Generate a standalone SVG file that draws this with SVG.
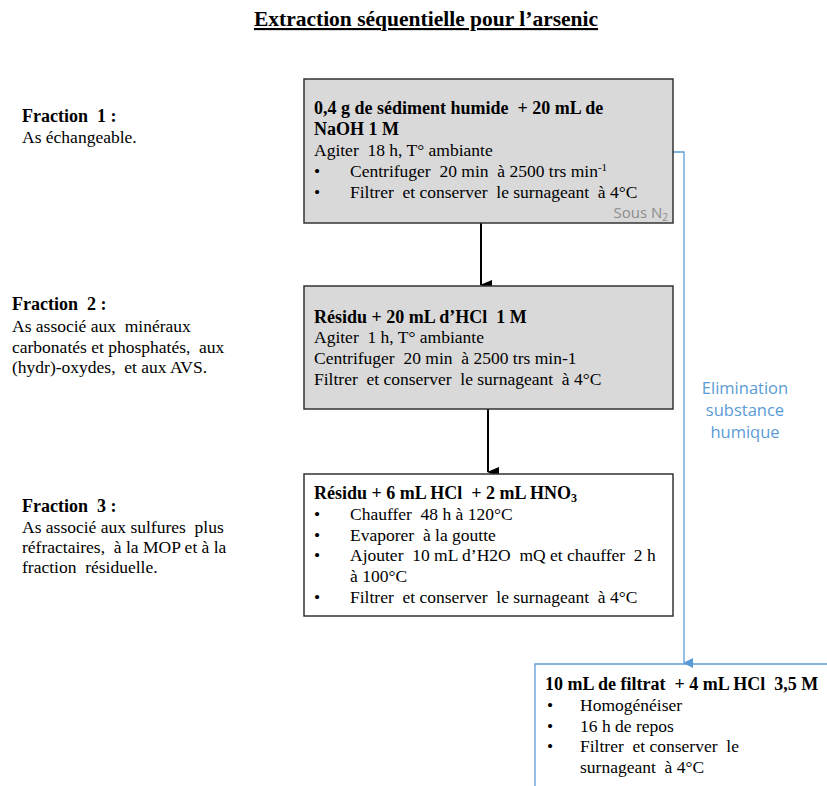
<svg xmlns="http://www.w3.org/2000/svg" width="827" height="786" viewBox="0 0 827 786">
<defs>
<style>
.t{font-family:"Liberation Serif","Times New Roman",serif;font-size:17.5px;fill:#000;white-space:pre}
.b{font-weight:bold;font-size:18px}
.ttl{font-size:21.5px;text-decoration:underline}
.box{stroke:#333;stroke-width:1.5}
.gray{fill:#d9d9d9}
.white{fill:#fff}
.blue{fill:none;stroke:#5b9bd5;stroke-width:1.3}
.bt{font-family:"Open Sans","Noto Sans","DejaVu Sans",sans-serif;font-size:16.5px;fill:#5b9bd5}
.sn{font-family:"Open Sans","Noto Sans","DejaVu Sans",sans-serif;font-size:15px;fill:#8c8c8c}
</style>
<marker id="ah" markerWidth="10" markerHeight="12" refX="5" refY="11" orient="auto" markerUnits="userSpaceOnUse" viewBox="0 0 10 12">
<path d="M0,0 L10,0 L5,12 Z" fill="#000"/>
</marker>
<marker id="bh" markerWidth="10" markerHeight="10" refX="5" refY="9" orient="auto" markerUnits="userSpaceOnUse" viewBox="0 0 10 10">
<path d="M0,0 L10,0 L5,10 Z" fill="#5b9bd5"/>
</marker>
</defs>
<rect width="827" height="786" fill="#fff"/>
<g id="title">
<text class="t b ttl" x="426" y="26" text-anchor="middle">Extraction séquentielle pour l’arsenic</text>
</g>
<g id="fraction1">
<text class="t b" x="22" y="122">Fraction  1 :</text>
<text class="t" x="22" y="143">As échangeable.</text>
</g>
<g id="fraction2">
<text class="t b" x="12" y="310">Fraction  2 :</text>
<text class="t" x="12" y="332">As associé aux  minéraux</text>
<text class="t" x="12" y="353">carbonatés et phosphatés,  aux</text>
<text class="t" x="12" y="373">(hydr)-oxydes,  et aux AVS.</text>
</g>
<g id="fraction3">
<text class="t b" x="22" y="512">Fraction  3 :</text>
<text class="t" x="22" y="533">As associé aux sulfures  plus</text>
<text class="t" x="22" y="553">réfractaires,  à la MOP et à la</text>
<text class="t" x="22" y="573">fraction  résiduelle.</text>
</g>
<g id="connectors">
<line x1="481" y1="223" x2="481" y2="285" stroke="#000" stroke-width="2" marker-end="url(#ah)"/>
<line x1="488" y1="409" x2="488" y2="472" stroke="#000" stroke-width="2" marker-end="url(#ah)"/>
<polyline class="blue" points="673,152 684,152 684,663" marker-end="url(#bh)"/>
<text class="bt" x="745" y="394" text-anchor="middle">Elimination</text>
<text class="bt" x="745" y="416" text-anchor="middle">substance</text>
<text class="bt" x="745" y="438" text-anchor="middle">humique</text>
</g>
<g id="box1">
<rect class="box gray" x="304" y="79" width="369" height="144"/>
<text class="t b" x="314" y="114">0,4 g de sédiment humide  + 20 mL de</text>
<text class="t b" x="314" y="135">NaOH 1 M</text>
<text class="t" x="314" y="156">Agiter  18 h, T° ambiante</text>
<text class="t" x="314" y="177">•</text>
<text class="t" x="350" y="177">Centrifuger  20 min  à 2500 trs min<tspan font-size="11" dy="-6">-1</tspan></text>
<text class="t" x="314" y="198">•</text>
<text class="t" x="350" y="198">Filtrer  et conserver  le surnageant  à 4°C</text>
<text class="sn" x="668" y="218" text-anchor="end">Sous N<tspan font-size="10" dy="3">2</tspan></text>
</g>
<g id="box2">
<rect class="box gray" x="304" y="286" width="369" height="123"/>
<text class="t b" x="314" y="323">Résidu + 20 mL d’HCl  1 M</text>
<text class="t" x="314" y="343">Agiter  1 h, T° ambiante</text>
<text class="t" x="314" y="364">Centrifuger  20 min  à 2500 trs min-1</text>
<text class="t" x="314" y="385">Filtrer  et conserver  le surnageant  à 4°C</text>
</g>
<g id="box3">
<rect class="box white" x="304" y="474" width="369" height="142"/>
<text class="t b" x="314" y="499">Résidu + 6 mL HCl  + 2 mL HNO<tspan font-size="12" dy="3">3</tspan></text>
<text class="t" x="314" y="520">•</text>
<text class="t" x="350" y="520">Chauffer  48 h à 120°C</text>
<text class="t" x="314" y="541">•</text>
<text class="t" x="350" y="541">Evaporer  à la goutte</text>
<text class="t" x="314" y="561">•</text>
<text class="t" x="350" y="561">Ajouter  10 mL d’H2O  mQ et chauffer  2 h</text>
<text class="t" x="350" y="582">à 100°C</text>
<text class="t" x="314" y="603">•</text>
<text class="t" x="350" y="603">Filtrer  et conserver  le surnageant  à 4°C</text>
</g>
<g id="box4">
<polyline class="blue" points="535,786 535,664 827,664"/>
<text class="t b" x="545" y="690">10 mL de filtrat  + 4 mL HCl  3,5 M</text>
<text class="t" x="547" y="711">•</text>
<text class="t" x="580" y="711">Homogénéiser</text>
<text class="t" x="547" y="732">•</text>
<text class="t" x="580" y="732">16 h de repos</text>
<text class="t" x="547" y="752">•</text>
<text class="t" x="580" y="752">Filtrer  et conserver  le</text>
<text class="t" x="580" y="773">surnageant  à 4°C</text>
</g>
</svg>
